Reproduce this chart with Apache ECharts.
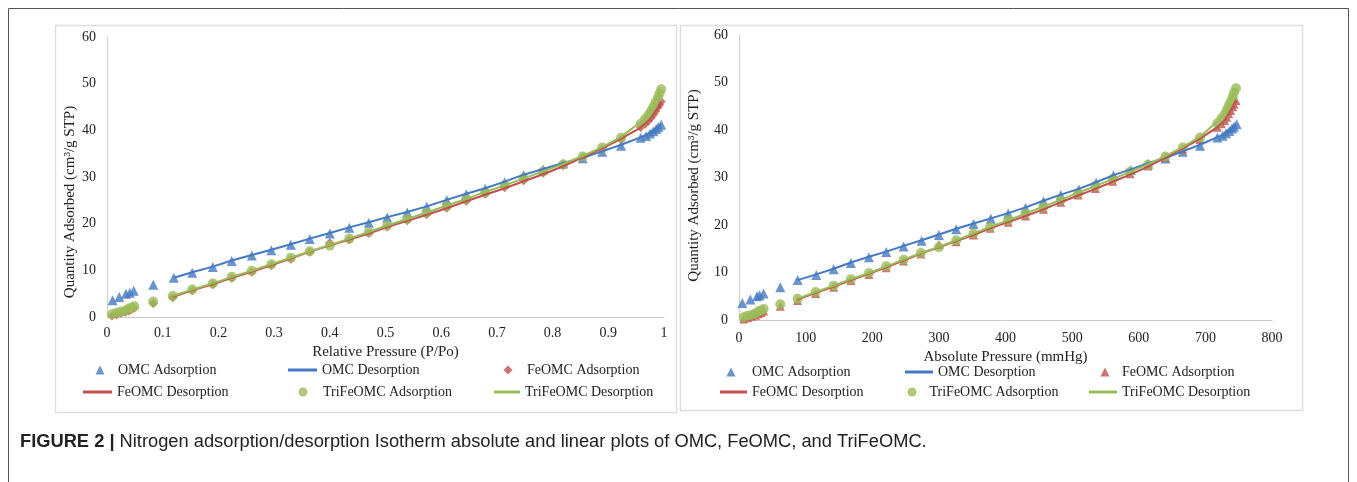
<!DOCTYPE html>
<html>
<head>
<meta charset="utf-8">
<script src="https://cdn.jsdelivr.net/npm/echarts@6/dist/echarts.min.js"></script>
<style>
  html, body { margin: 0; padding: 0; background: #ffffff; }
  #chart { width: 1357px; height: 482px; }
</style>
</head>
<body>
<div id="chart"></div>
<script>
// relative pressure (P/Po) and quantity adsorbed (cm3/g STP)
let omcAdsP = [0.010, 0.022, 0.034, 0.041, 0.048, 0.083, 0.120, 0.153, 0.190, 0.224, 0.260, 0.295, 0.330, 0.364, 0.400, 0.435, 0.470, 0.503, 0.539, 0.574, 0.610, 0.645, 0.679, 0.714, 0.748, 0.783, 0.819, 0.854, 0.889, 0.923, 0.958, 0.968, 0.975, 0.981, 0.986, 0.990, 0.995]
let omcAdsQ = [3.6, 4.3, 5.0, 5.2, 5.6, 6.9, 8.4, 9.5, 10.7, 12.0, 13.2, 14.3, 15.5, 16.7, 17.9, 19.1, 20.2, 21.3, 22.4, 23.6, 25.0, 26.3, 27.5, 28.9, 30.4, 31.6, 32.9, 34.0, 35.4, 36.7, 38.4, 38.8, 39.3, 39.8, 40.3, 40.7, 41.2]
let omcDesP = [0.995, 0.990, 0.985, 0.980, 0.975, 0.968, 0.958, 0.923, 0.889, 0.854, 0.819, 0.783, 0.748, 0.714, 0.679, 0.645, 0.610, 0.574, 0.539, 0.503, 0.470, 0.435, 0.400, 0.364, 0.330, 0.295, 0.260, 0.224, 0.190, 0.153, 0.120]
let omcDesQ = [41.2, 40.8, 40.4, 40.0, 39.6, 39.0, 38.5, 36.9, 35.5, 34.1, 33.0, 31.7, 30.5, 29.0, 27.6, 26.4, 25.1, 23.7, 22.5, 21.4, 20.3, 19.2, 18.0, 16.8, 15.6, 14.4, 13.3, 12.1, 10.8, 9.6, 8.4]

let triAdsP = [0.009, 0.017, 0.025, 0.033, 0.039, 0.044, 0.049, 0.083, 0.118, 0.153, 0.190, 0.224, 0.260, 0.295, 0.330, 0.364, 0.400, 0.435, 0.470, 0.503, 0.539, 0.574, 0.610, 0.645, 0.679, 0.714, 0.748, 0.783, 0.819, 0.854, 0.889, 0.923, 0.958, 0.966, 0.972, 0.977, 0.981, 0.985, 0.989, 0.992, 0.995]
let triAdsQ = [0.6, 0.9, 1.1, 1.4, 1.8, 2.0, 2.3, 3.3, 4.5, 5.9, 7.2, 8.6, 9.9, 11.3, 12.7, 14.1, 15.3, 16.8, 18.2, 19.6, 21.0, 22.4, 23.8, 25.2, 26.7, 28.2, 29.7, 31.2, 32.7, 34.4, 36.3, 38.4, 41.4, 42.4, 43.3, 44.2, 45.1, 46.0, 47.0, 47.9, 48.8]
let triDesP = [0.995, 0.992, 0.989, 0.985, 0.981, 0.977, 0.972, 0.966, 0.958, 0.923, 0.889, 0.854, 0.819, 0.783, 0.748, 0.714, 0.679, 0.645, 0.610, 0.574, 0.539, 0.503, 0.470, 0.435, 0.400, 0.364, 0.330, 0.295, 0.260, 0.224, 0.190, 0.153, 0.118]
let triDesQ = [48.8, 48.1, 47.3, 46.4, 45.5, 44.6, 43.7, 42.8, 41.8, 38.6, 36.4, 34.5, 32.8, 31.2, 29.7, 28.2, 26.8, 25.3, 23.9, 22.4, 21.0, 19.6, 18.2, 16.8, 15.4, 14.1, 12.7, 11.3, 9.9, 8.6, 7.2, 5.9, 4.5]

let feAdsP = [0.009, 0.017, 0.025, 0.033, 0.039, 0.044, 0.049, 0.083, 0.118, 0.153, 0.190, 0.224, 0.260, 0.295, 0.330, 0.364, 0.400, 0.435, 0.470, 0.503, 0.539, 0.574, 0.610, 0.645, 0.679, 0.714, 0.748, 0.783, 0.819, 0.854, 0.889, 0.923, 0.958, 0.966, 0.972, 0.977, 0.981, 0.985, 0.989, 0.992, 0.995]
let feAdsQ = [0.2, 0.5, 0.8, 1.0, 1.3, 1.6, 1.9, 2.9, 4.1, 5.6, 6.9, 8.3, 9.6, 11.0, 12.4, 13.9, 15.9, 16.5, 17.9, 19.3, 20.6, 21.9, 23.3, 24.8, 26.3, 27.7, 29.2, 30.8, 32.4, 34.2, 36.0, 38.0, 40.6, 41.3, 42.0, 42.7, 43.4, 44.1, 44.9, 45.5, 46.2]
let feDesP = [0.995, 0.989, 0.981, 0.972, 0.958, 0.923, 0.889, 0.854, 0.819, 0.783, 0.748, 0.714, 0.679, 0.645, 0.610, 0.574, 0.539, 0.503, 0.470, 0.435, 0.400, 0.364, 0.330, 0.295, 0.260, 0.224, 0.190, 0.153, 0.118]
let feDesQ = [46.2, 44.9, 43.4, 42.0, 40.6, 38.2, 36.1, 34.2, 32.3, 30.6, 29.1, 27.6, 26.2, 24.8, 23.3, 21.9, 20.6, 19.3, 17.9, 16.6, 15.3, 14.0, 12.5, 11.1, 9.7, 8.4, 7.0, 5.7, 4.3]

// absolute pressure (mmHg), same points
let omcAdsAbs = [5, 17, 27, 31, 37, 62, 88, 116, 142, 168, 195, 221, 247, 274, 300, 326, 352, 378, 404, 430, 457, 483, 510, 536, 562, 588, 614, 640, 666, 692, 718, 726, 731, 736, 740, 743, 747]
let omcDesAbs = [747, 743, 739, 736, 731, 726, 718, 692, 666, 640, 614, 588, 562, 536, 510, 483, 457, 430, 404, 378, 352, 326, 300, 274, 247, 221, 195, 168, 142, 116, 88]
let triAdsAbs = [7, 13, 19, 25, 29, 33, 37, 62, 88, 115, 142, 168, 195, 221, 247, 273, 300, 326, 352, 377, 404, 430, 457, 483, 509, 535, 561, 587, 614, 640, 666, 692, 718, 724, 729, 732, 735, 738, 741, 743, 746]
let triDesAbs = [746, 743, 741, 738, 735, 732, 729, 724, 718, 692, 666, 640, 614, 587, 561, 535, 509, 483, 457, 430, 404, 377, 352, 326, 300, 273, 247, 221, 195, 168, 142, 115, 88]
let feAdsAbs = [7, 13, 19, 25, 29, 33, 37, 62, 88, 115, 142, 168, 195, 221, 247, 273, 300, 326, 352, 377, 404, 430, 457, 483, 509, 535, 561, 587, 614, 640, 666, 692, 718, 724, 729, 732, 735, 738, 741, 743, 746]
let feDesAbs = [746, 741, 735, 729, 718, 692, 666, 640, 614, 587, 561, 535, 509, 483, 457, 430, 404, 377, 352, 326, 300, 273, 247, 221, 195, 168, 142, 115, 88]

let relTicks = ['0', '0.1', '0.2', '0.3', '0.4', '0.5', '0.6', '0.7', '0.8', '0.9', '1']
let absTicks = ['0', '100', '200', '300', '400', '500', '600', '700', '800']
let yTicks = ['0', '10', '20', '30', '40', '50', '60']
let caption = 'Nitrogen adsorption/desorption Isotherm absolute and linear plots of OMC, FeOMC, and TriFeOMC.'

let blue = '#4479c2'
let red = '#c0504d'
let green = '#9bbb59'
let serif = '"Liberation Serif", "Times New Roman", serif'

function pairs (xs, ys) {
  return xs.map((x, i) => [x, ys[i]])
}

function xAxisOf (grid, max, interval, ticks, name, margin, gap) {
  return {
    gridIndex: grid,
    type: 'value',
    min: 0,
    max: max,
    interval: interval,
    axisLine: {lineStyle: {color: '#c8c8c8', width: 1}},
    axisTick: {show: false},
    splitLine: {show: false},
    axisLabel: {
      color: '#222',
      fontFamily: serif,
      fontSize: 14,
      margin: margin,
      formatter: v => ticks[Math.round(v / interval)]
    },
    name: name,
    nameLocation: 'middle',
    nameGap: gap,
    nameTextStyle: {color: '#222', fontFamily: serif, fontSize: 15}
  }
}

function yAxisOf (grid, gap, shift) {
  return {
    gridIndex: grid,
    type: 'value',
    min: 0,
    max: 60,
    interval: 10,
    axisLine: {show: true, lineStyle: {color: '#d0d0d0', width: 1}},
    axisTick: {show: false},
    splitLine: {show: false},
    axisLabel: {
      color: '#222',
      fontFamily: serif,
      fontSize: 14,
      margin: 11,
      formatter: v => yTicks[Math.round(v / 10)]
    },
    name: 'Quantity Adsorbed (cm³/g STP)',
    nameLocation: 'middle',
    nameGap: gap,
    nameTextStyle: {color: '#222', fontFamily: serif, fontSize: 15, padding: [0, shift, 0, 0]}
  }
}

function seriesOf (idx, fePoint, xs) {
  return [
    {name: 'OMC Adsorption', type: 'scatter', xAxisIndex: idx, yAxisIndex: idx, symbol: 'triangle', symbolSize: 10, itemStyle: {color: blue}, data: pairs(xs.omcA, omcAdsQ)},
    {name: 'OMC Desorption', type: 'line', xAxisIndex: idx, yAxisIndex: idx, symbol: 'none', lineStyle: {color: blue, width: 2}, itemStyle: {color: blue}, data: pairs(xs.omcD, omcDesQ)},
    {name: 'FeOMC Adsorption', type: 'scatter', xAxisIndex: idx, yAxisIndex: idx, symbol: fePoint, symbolSize: 9, itemStyle: {color: red}, data: pairs(xs.feA, feAdsQ)},
    {name: 'FeOMC Desorption', type: 'line', xAxisIndex: idx, yAxisIndex: idx, symbol: 'none', lineStyle: {color: red, width: 2}, itemStyle: {color: red}, data: pairs(xs.feD, feDesQ)},
    {name: 'TriFeOMC Adsorption', type: 'scatter', xAxisIndex: idx, yAxisIndex: idx, symbol: 'circle', symbolSize: 10, itemStyle: {color: green}, data: pairs(xs.triA, triAdsQ)},
    {name: 'TriFeOMC Desorption', type: 'line', xAxisIndex: idx, yAxisIndex: idx, symbol: 'none', lineStyle: {color: green, width: 2}, itemStyle: {color: green}, data: pairs(xs.triD, triDesQ)}
  ]
}

// marker entries: small icon, text pushed right by pad
function markLegend (name, center, top, icon, pad) {
  return {
    data: [{name: name, icon: icon}],
    left: center - 4.5,
    top: top,
    padding: 0,
    itemWidth: 9,
    itemHeight: 9,
    selectedMode: false,
    textStyle: {color: '#222', fontFamily: serif, fontSize: 14, lineHeight: 16, padding: [0, 0, 0, pad]}
  }
}

// line entries: flat bar as the icon
function lineLegend (name, left, top, width) {
  return {
    data: [{name: name, icon: 'rect'}],
    left: left,
    top: top,
    padding: 0,
    itemWidth: width,
    itemHeight: 3,
    selectedMode: false,
    textStyle: {color: '#222', fontFamily: serif, fontSize: 14, lineHeight: 16}
  }
}

let chart = echarts.init(document.getElementById('chart'))
let option = {
  backgroundColor: '#ffffff',
  animation: false,
  grid: [
    {left: 107, right: 693, top: 37, bottom: 165},
    {left: 739, right: 85, top: 35, bottom: 162}
  ],
  xAxis: [
    xAxisOf(0, 1, 0.1, relTicks, 'Relative Pressure (P/Po)', 9, 26),
    xAxisOf(1, 800, 100, absTicks, 'Absolute Pressure (mmHg)', 11, 28)
  ],
  yAxis: [
    yAxisOf(0, 29, 50),
    yAxisOf(1, 37, 16)
  ],
  legend: [
    markLegend('OMC Adsorption', 100, 362, 'triangle', 8.5),
    lineLegend('OMC Desorption', 288, 362, 29),
    markLegend('FeOMC Adsorption', 508, 362, 'diamond', 9.5),
    lineLegend('FeOMC Desorption', 83, 384, 29),
    markLegend('TriFeOMC Adsorption', 303, 384, 'circle', 10.5),
    lineLegend('TriFeOMC Desorption', 494, 384, 26),
    markLegend('OMC Adsorption', 731, 364, 'triangle', 11.5),
    lineLegend('OMC Desorption', 905, 364, 28),
    markLegend('FeOMC Adsorption', 1105, 364, 'triangle', 7.5),
    lineLegend('FeOMC Desorption', 720, 384, 27),
    markLegend('TriFeOMC Adsorption', 912, 384, 'circle', 8),
    lineLegend('TriFeOMC Desorption', 1089, 384, 28)
  ],
  graphic: [
    {type: 'rect', z: -10, shape: {x: 8.5, y: 8.5, width: 1340, height: 490}, style: {fill: '#fff', stroke: '#555', lineWidth: 1}},
    {type: 'rect', z: -5, shape: {x: 55.5, y: 25.5, width: 621, height: 387}, style: {fill: '#fff', stroke: '#dedede', lineWidth: 1.5}},
    {type: 'rect', z: -5, shape: {x: 680.5, y: 25.5, width: 622, height: 385}, style: {fill: '#fff', stroke: '#dedede', lineWidth: 1.5}},
    {
      type: 'text',
      left: 20,
      top: 433,
      style: {
        text: '{b|FIGURE 2 |} ' + caption,
        fill: '#222',
        font: '18.3px "Liberation Sans", Arial, sans-serif',
        rich: {b: {fontWeight: 'bold', fontSize: 18.3, fontFamily: '"Liberation Sans", Arial, sans-serif', fill: '#222'}}
      }
    }
  ],
  series: seriesOf(0, 'diamond', {omcA: omcAdsP, omcD: omcDesP, feA: feAdsP, feD: feDesP, triA: triAdsP, triD: triDesP})
    .concat(seriesOf(1, 'triangle', {omcA: omcAdsAbs, omcD: omcDesAbs, feA: feAdsAbs, feD: feDesAbs, triA: triAdsAbs, triD: triDesAbs}))
}
chart.setOption(option)
</script>
</body>
</html>
